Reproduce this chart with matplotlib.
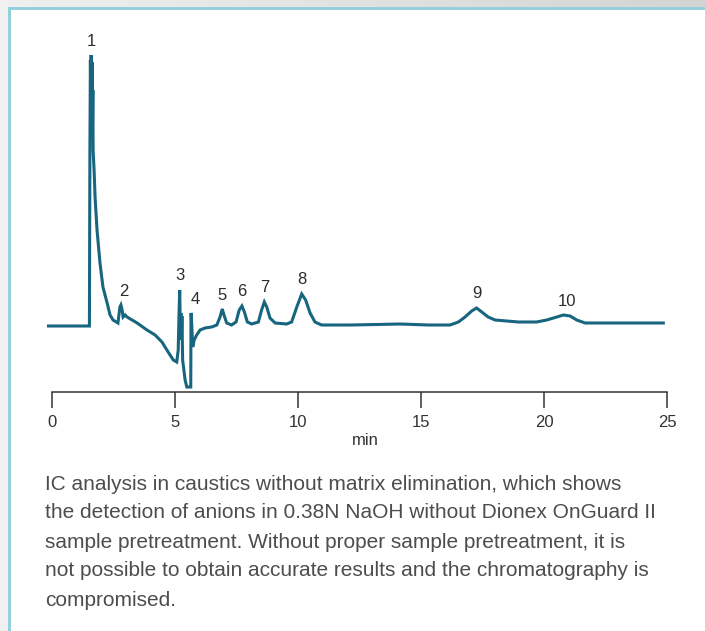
import matplotlib.pyplot as plt
import numpy as np
from matplotlib.patches import Rectangle
from matplotlib.colors import LinearSegmentedColormap

plt.rcParams['font.family'] = ['Liberation Sans', 'DejaVu Sans']

# Conductivity trace (retention time in min, signal in arbitrary units)
time_min = [-0.16, 1.50, 1.52, 1.54, 1.56, 1.58, 1.59, 1.61, 1.63, 1.64, 1.66, 1.67,
            1.71, 1.75, 1.83, 1.95, 2.07, 2.24, 2.36, 2.48, 2.68, 2.76, 2.80, 2.85,
            2.89, 2.97, 3.05, 3.46, 3.86, 4.19, 4.47, 4.72, 4.93, 5.07, 5.13, 5.16,
            5.19, 5.22, 5.24, 5.26, 5.28, 5.31, 5.41, 5.48, 5.64, 5.65, 5.66, 5.72,
            5.78, 5.88, 6.02, 6.22, 6.49, 6.70, 6.83, 6.92, 6.99, 7.10, 7.30, 7.48,
            7.61, 7.72, 7.82, 7.94, 8.12, 8.39, 8.52, 8.63, 8.73, 8.86, 9.07, 9.54,
            9.74, 9.95, 10.15, 10.31, 10.49, 10.69, 10.96, 12.11, 13.20, 14.15, 15.30,
            16.18, 16.52, 16.79, 17.06, 17.26, 17.47, 17.73, 18.01, 18.48, 18.96,
            19.70, 20.11, 20.52, 20.79, 21.06, 21.33, 21.67, 23.10, 24.85]
signal = [0.0, 0.0, 0.0, 17.6, 26.6, 21.6, 27.1, 19.6, 26.4, 18.6, 23.6, 17.6,
          15.6, 12.9, 9.6, 6.3, 3.9, 2.3, 1.1, 0.6, 0.3, 1.9, 2.1, 1.6,
          0.9, 1.1, 0.9, 0.3, -0.4, -0.9, -1.6, -2.6, -3.4, -3.6, -2.4, 0.9,
          3.6, -0.7, 1.3, -1.4, 1.0, -3.4, -5.4, -6.1, -6.1, 1.3, 1.2, -2.1,
          -1.4, -0.9, -0.4, -0.2, -0.1, 0.1, 0.9, 1.7, 1.1, 0.3, 0.1, 0.4,
          1.6, 2.0, 1.4, 0.4, 0.2, 0.4, 1.6, 2.4, 1.9, 0.8, 0.3, 0.2,
          0.4, 1.9, 3.2, 2.6, 1.3, 0.4, 0.1, 0.1, 0.15, 0.2, 0.1,
          0.1, 0.4, 0.9, 1.5, 1.8, 1.4, 0.9, 0.6, 0.5, 0.4,
          0.4, 0.6, 0.9, 1.1, 1.0, 0.6, 0.3, 0.3, 0.3]

# Peak numbers and their retention times
peak_labels = ['1', '2', '3', '4', '5', '6', '7', '8', '9', '10']
peak_times = [1.59, 2.80, 5.19, 5.65, 6.92, 7.72, 8.63, 10.15, 17.26, 20.79]

caption = [
    'IC analysis in caustics without matrix elimination, which shows',
    'the detection of anions in 0.38N NaOH without Dionex OnGuard II',
    'sample pretreatment. Without proper sample pretreatment, it is',
    'not possible to obtain accurate results and the chromatography is',
    'compromised.',
]

W, H = 705, 631
fig = plt.figure(figsize=(W / 100, H / 100), dpi=100)
fig.patch.set_facecolor('white')

# page frame behind the chart
bg = fig.add_axes([0, 0, 1, 1], zorder=-10)
bg.set_xlim(0, W)
bg.set_ylim(H, 0)
bg.axis('off')
grad = np.linspace(0, 1, 256).reshape(1, -1)
bg.imshow(grad, extent=[0, W, 7, 0], aspect='auto',
          cmap=LinearSegmentedColormap.from_list('band', ['#f0f0f0', '#d4d4d4']))
bg.add_patch(Rectangle((0, 0), 8, H, color='#f0f0f0', lw=0))
bg.add_patch(Rectangle((8, 7), W - 8, 3, color='#93d2dd', lw=0))
bg.add_patch(Rectangle((8, 7), 3, H - 7, color='#93d2dd', lw=0))

# chromatogram axes
x0, x1 = 47.1, 667
y_axis, y_top = 392, 25
ax = fig.add_axes([x0 / W, (H - y_axis) / H, (x1 - x0) / W, (y_axis - y_top) / H])
ax.patch.set_alpha(0)

ax.plot(time_min, signal, color='#17657f', lw=2.2, solid_joinstyle='miter')

ax.set_xlim(-0.2, 25)
ax.set_ylim(-6.6, 30.1)

for s in ['left', 'right', 'top']:
    ax.spines[s].set_visible(False)
ax.spines['bottom'].set_bounds(0, 25)
ax.spines['bottom'].set_color('#333333')
ax.spines['bottom'].set_linewidth(1.1)
ax.set_yticks([])
ax.set_xticks([0, 5, 10, 15, 20, 25])
ax.tick_params(axis='x', direction='out', length=11.5, width=1.1, color='#333333',
               pad=5, labelsize=12, labelcolor='#333333')
ax.text(0.513, -0.133, 'min', transform=ax.transAxes, ha='center', va='center',
        fontsize=12, color='#333333')

# peak numbers above each apex
t_arr = np.array(time_min)
s_arr = np.array(signal)
dx = {'2': 3, '4': 4, '10': 4}
for lab, rt in zip(peak_labels, peak_times):
    win = np.abs(t_arr - rt) < 0.05
    apex = s_arr[win].max()
    ax.annotate(lab, (rt, apex), xytext=(dx.get(lab, 0), 14), textcoords='offset pixels',
                ha='center', va='center', fontsize=12, color='#2b2b2b')

for i, line in enumerate(caption):
    fig.text(45 / W, 1 - (484 + 29 * i) / H, line, ha='left', va='center',
             fontsize=15, color='#4d4d4d')

fig.savefig('out.png', dpi=100)
